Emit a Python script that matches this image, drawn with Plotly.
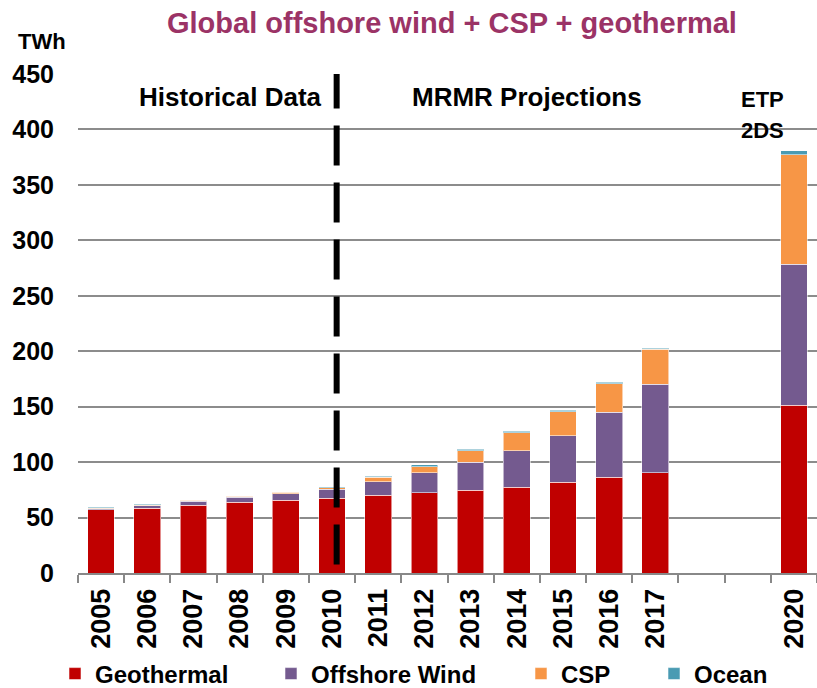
import plotly.graph_objects as go

categories = ["2005", "2006", "2007", "2008", "2009", "2010", "2011", "2012",
              "2013", "2014", "2015", "2016", "2017", " ", "  ", "2020"]
geothermal = [57.0, 58.3, 61.0, 64.0, 65.8, 67.6, 70.3, 72.4, 74.6, 77.3, 81.8, 86.3, 90.4, None, None, 151.5]
offshore_wind = [1.0, 2.5, 3.5, 4.2, 5.7, 7.8, 12.0, 18.0, 25.5, 33.0, 42.0, 58.6, 79.8, None, None, 127.0]
csp = [0.5, 0.5, 1.0, 0.9, 1.2, 1.5, 4.2, 5.5, 10.2, 16.2, 21.6, 25.8, 31.5, None, None, 98.6]
ocean = [1.0, 0.8, 0.6, 0.6, 0.6, 0.9, 0.9, 1.5, 1.2, 1.5, 1.3, 1.5, 1.2, None, None, 3.6]
y_ticks = [0, 50, 100, 150, 200, 250, 300, 350, 400, 450]

series = [("Geothermal", geothermal, "#C00000"),
          ("Offshore Wind", offshore_wind, "#745A8F"),
          ("CSP", csp, "#F79646"),
          ("Ocean", ocean, "#4A9BB3")]

FONT = "Liberation Sans, Arial, sans-serif"
W, H = 817, 688
L, R, T, B = 78, 0, 74, 115
PH = H - T - B
PW = W - L - R


def px_x(px):
    return (px - L) / PW


def px_y(py):
    return (H - B - py) / PH


# legend text start positions (pixels) in the reference
legend_text_x = [93, 309, 559, 692]
legend_ids = ["legend", "legend2", "legend3", "legend4"]

fig = go.Figure()
for (name, vals, col), lid in zip(series, legend_ids):
    fig.add_trace(go.Bar(
        x=categories, y=vals, name=name, legend=lid,
        marker=dict(color=col, line=dict(color="rgba(255,255,255,0.55)", width=1)),
        width=0.58,
    ))

# divider between historical and projected (dash pattern starts at the top)
fig.add_shape(type="line", xref="x", yref="y", x0=5.1, x1=5.1, y0=455, y1=0,
              line=dict(color="black", width=6, dash="40px,17px"))


def note(text, cx, cy, size, color="black", xanchor="center"):
    fig.add_annotation(x=px_x(cx), y=px_y(cy), xref="paper", yref="paper",
                       xanchor=xanchor, yanchor="middle", text=text, showarrow=False,
                       font=dict(family=FONT, size=size, color=color))


note("<b>Historical Data</b>", 230, 97, 26)
note("<b>MRMR Projections</b>", 527, 97, 26)
note("<b>ETP</b>", 762, 99, 22)
note("<b>2DS</b>", 762, 130, 22)
note("<b>Global offshore wind + CSP + geothermal</b>", 452, 23, 29, color="#9B3366")
note("<b>TWh</b>", 16, 41, 22, xanchor="left")

legfont = dict(family=FONT, size=24, color="black", weight="bold")
layout_legends = {}
for lid, tx in zip(legend_ids, legend_text_x):
    layout_legends[lid] = dict(
        orientation="h", xref="container", yref="container",
        x=(tx - 38) / W, y=1 - 674 / H, xanchor="left", yanchor="middle",
        font=legfont, itemwidth=30, bgcolor="rgba(0,0,0,0)",
    )

fig.update_layout(
    barmode="stack",
    width=W, height=H,
    margin=dict(l=L, r=R, t=T, b=B),
    paper_bgcolor="white", plot_bgcolor="white",
    font=dict(family=FONT, size=20, color="black"),
    showlegend=True,
    xaxis=dict(
        type="category", categoryorder="array", categoryarray=categories,
        range=[-0.5, 15.5], tickangle=-90, tickson="boundaries",
        ticks="outside", ticklen=8, tickcolor="#888888", tickwidth=2,
        showline=True, linecolor="#888888", linewidth=2, automargin=False,
        tickfont=dict(family=FONT, size=27, color="black", weight="bold"),
        ticklabelstandoff=3,
    ),
    yaxis=dict(
        range=[0, 450], tickvals=y_ticks,
        showgrid=True, gridcolor="#8C8C8C", gridwidth=2, zeroline=False,
        showline=False, ticks="", automargin=False,
        tickfont=dict(family=FONT, size=25, color="black", weight="bold"),
        ticklabelstandoff=23,
    ),
    **layout_legends,
)

fig.write_html("out.html")
